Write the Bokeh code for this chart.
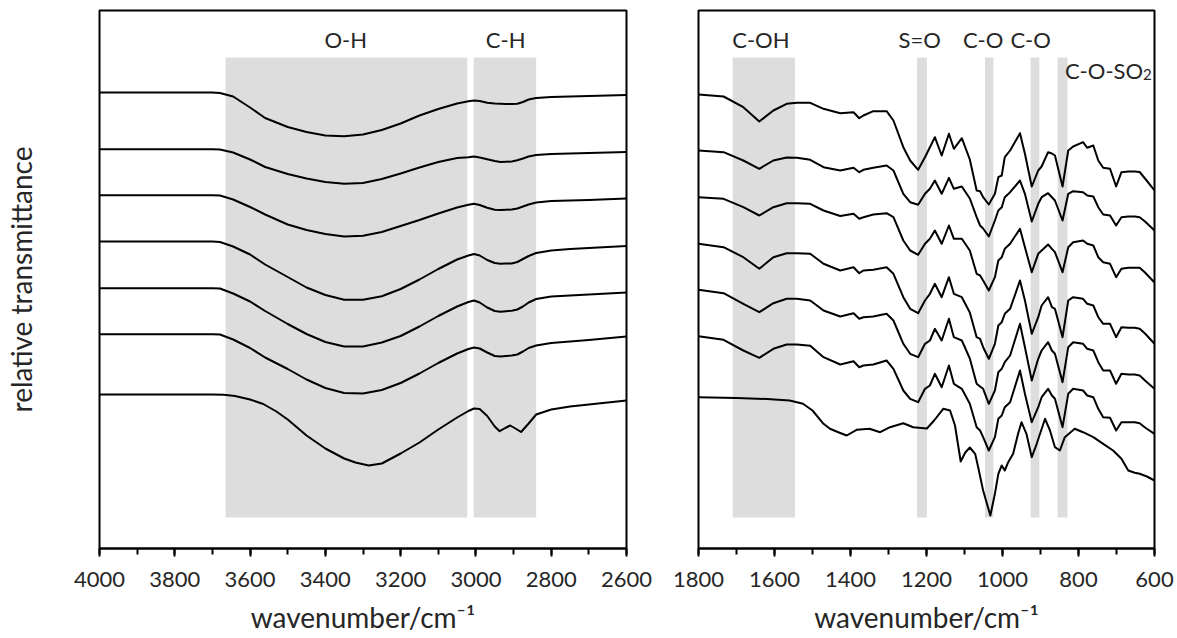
from bokeh.plotting import figure
from bokeh.layouts import row
from bokeh.models import Range1d, SingleIntervalTicker, FixedTicker
from bokeh.core.properties import value
from bokeh.embed import file_html
from bokeh.resources import INLINE

FONT = "Lato"
TXT = "#262626"

# ---------------- left panel (4000-2600 cm-1) ----------------
L_WN = [4000, 3850, 3700, 3680, 3645, 3600, 3560, 3500, 3450, 3400, 3350, 3300, 3250, 3200,
        3150, 3100, 3050, 3020, 3005, 2990, 2970, 2950, 2935, 2920, 2905, 2890, 2875, 2860,
        2840, 2800, 2750, 2700, 2600]
L_S1 = [456, 456, 456, 455.5, 452, 441, 430.5, 421.5, 416.5, 413, 412.3, 414, 418.5, 425,
        433, 439.5, 445, 447.2, 448, 447.5, 445.7, 445, 444.7, 444.5, 444.5, 444.7, 446.5, 449,
        450.5, 451.5, 452, 452.5, 453.5]
L_S2 = [399.3, 399.3, 399.3, 399, 396, 389, 381.5, 374.5, 370, 366.5, 364.7, 365.5, 369.5, 375,
        381, 386.5, 390.5, 391.3, 392, 391, 389.3, 387.5, 386.5, 386.7, 387, 388.2, 390, 392,
        393.5, 394.5, 395, 395.5, 396.5]
L_S3 = [353.3, 353.3, 353.3, 353, 349, 341.5, 334, 324, 318.5, 314.5, 312, 312.7, 316.5, 322.5,
        328.5, 335, 341, 343.8, 344.7, 343.5, 340.7, 338.7, 338.5, 338.7, 339, 340, 342, 344,
        346, 347.5, 348, 348.5, 350]
L_S4 = [307, 307, 307, 306.5, 302, 294, 284, 271.5, 261, 253.5, 248.7, 248.7, 252.3, 259.5,
        269, 279.5, 289, 293, 294.5, 293, 288.5, 285.5, 284.8, 285, 285, 286.5, 289.5, 292.5,
        295.5, 298, 299.5, 300.5, 302.5]
L_S5 = [260.3, 260.3, 260.3, 260, 255, 247, 237.5, 224.5, 214.5, 206.5, 202, 202, 206, 212.5,
        222, 232.5, 242, 246.5, 248, 246, 241, 237.5, 236.8, 237.3, 237.8, 239, 242, 246,
        249.5, 252, 253, 254, 256]
L_S6 = [214.3, 214.3, 214.3, 214, 209, 200.5, 191, 179.5, 169, 160.5, 155.5, 155, 158.5, 165.5,
        175, 185.5, 195, 199.5, 201, 200, 196, 192.5, 192, 192.5, 193, 194, 197, 200.5,
        203, 205.5, 207, 208.5, 212]
L_SPECTRA = [L_S1, L_S2, L_S3, L_S4, L_S5, L_S6]
# bottom (reference) spectrum, read on its own wavenumber points
L7_WN = [4000, 3850, 3700, 3670, 3640, 3600, 3565, 3530, 3500, 3450, 3400, 3350, 3320, 3285,
         3250, 3220, 3200, 3150, 3100, 3050, 3020, 3005, 2990, 2970, 2950, 2937, 2922, 2909,
         2895, 2880, 2860, 2840, 2800, 2750, 2700, 2600]
L_S7 = [154, 154, 154, 153.8, 152.5, 149, 144.5, 137, 129, 113, 100, 90, 86, 83,
        85, 91, 95, 106, 119, 131, 137.5, 140, 139.5, 132.5, 122, 117.3, 120.5, 123,
        120, 116.5, 125, 134, 139, 142, 144, 148]

L_BAND_FROM = [3665, 3006]
L_BAND_TO = [3023, 2840]
L_BAND_NAMES = ["O-H", "C-H"]
L_NAME_WN = [3346, 2921]

# ---------------- right panel (1800-600 cm-1) ----------------
R_WN = [1800, 1734, 1682, 1640, 1603, 1568, 1541, 1506, 1471, 1427,
        1392, 1377, 1366, 1340, 1305, 1287, 1261, 1243, 1222, 1204,
        1191, 1178, 1160, 1141, 1128, 1107, 1086, 1068, 1059, 1051,
        1036, 1020, 1011, 1002, 994, 980, 954, 941, 923, 906,
        897, 880, 870, 862, 842, 827, 814, 788, 777, 761,
        748, 735, 717, 701, 687, 669, 652, 639, 625, 600]
R_S1 = [454, 452, 441.3, 427, 438, 444.7, 445.7, 445.7, 439.7, 435.3,
        436.3, 430.3, 433, 437.3, 437.3, 428, 401.3, 388, 378.7, 391.3,
        401.3, 411.3, 393, 414.7, 399.7, 410.3, 389, 358, 357.3, 351.3,
        344, 354.7, 371.3, 373, 391.3, 398, 415.3, 394.7, 362, 378,
        382, 396.3, 395, 393, 362, 398, 402, 406.3, 400.7, 403,
        388, 380.7, 379.7, 362, 376.3, 377, 377, 376.5, 370, 358]
R_S2 = [398, 396.3, 388, 379.7, 388, 391, 390.7, 388.7, 381.3, 378,
        380.7, 376.3, 378.7, 380.7, 383, 378, 354.7, 346.3, 343.7, 354.7,
        359.7, 368, 354.7, 370.7, 359.7, 362, 350, 331.3, 323, 320,
        312, 328, 338, 341.3, 351.3, 356.3, 368, 354.7, 327, 344.7,
        351.3, 355.3, 351.3, 348, 328, 354.7, 357.3, 356.3, 353, 352,
        341.3, 334, 333, 323, 331.3, 332, 332, 331.3, 327, 318]
R_S3 = [351.3, 349.7, 341.3, 333, 341.3, 345.3, 345.3, 344.7, 338, 332.5,
        334.7, 329.7, 331.3, 334, 335.3, 331.3, 308, 298, 293.7, 304.7,
        309.7, 318, 304.7, 323, 309.7, 309.7, 298, 274.7, 273, 268,
        258, 271.3, 288, 291.3, 299.7, 304.7, 319.7, 301.3, 276.3, 294.7,
        298, 304, 299.7, 296.3, 276.3, 301.3, 306.3, 308, 304.7, 303,
        291.3, 286.3, 284.7, 271.3, 279.7, 280.7, 280.7, 280.7, 276, 266]
R_S4 = [304.7, 301.3, 291.3, 279.7, 291.3, 295.3, 295.3, 294.7, 284.7, 278,
        281.3, 275.3, 278, 278.7, 281.3, 274.7, 251.3, 239.7, 235.3, 248,
        254.7, 264.7, 251.3, 271.3, 254.7, 251.3, 236, 211.3, 209.7, 201.3,
        189.7, 204.7, 223, 226.3, 234.7, 239.7, 268, 248, 214.7, 231.3,
        243, 251.3, 241.3, 239.7, 211.3, 248, 251.3, 249.7, 244.7, 243,
        231.3, 224.7, 224.7, 211.3, 221.3, 220.7, 220.7, 219.7, 215, 204.7]
R_S5 = [258.7, 255.3, 244.7, 236.3, 245.3, 249.7, 249.7, 248, 238, 232,
        235.3, 229.7, 231.3, 232, 234.7, 228, 204.7, 194.7, 191.3, 204.7,
        208, 219.7, 208, 229.7, 211.3, 208, 190, 164.7, 162, 159.7,
        144.7, 158, 176.3, 179.7, 186.3, 193, 224.7, 201.3, 168, 189.7,
        198, 206.3, 198, 194.7, 166.3, 201.3, 206.3, 204.7, 199.7, 198,
        186.3, 178, 178, 164.7, 174.7, 174, 174, 173, 168, 159.7]
R_S6 = [212.3, 208.7, 198, 190.7, 199.7, 204, 204, 202.7, 191.3, 184,
        187.3, 181.3, 183, 184, 188, 179.7, 158, 149.7, 146.3, 159.7,
        163, 174.7, 161.3, 183, 164.7, 159.7, 144.7, 121.3, 118, 111.3,
        98, 111.3, 129.7, 133, 141.3, 146.3, 178, 154.7, 126.3, 141.3,
        151.3, 159.7, 153, 149.7, 121.3, 154.7, 159.7, 158, 153, 151.3,
        139.7, 131.3, 130.7, 118, 126.3, 126.3, 126.3, 125.3, 121, 114.7]
R7_WN = [1800, 1700, 1620, 1560, 1525, 1500, 1471, 1454, 1432, 1410,
         1384, 1350, 1322, 1296, 1261, 1235, 1199, 1180, 1156, 1138,
         1125, 1110, 1098, 1086, 1072, 1064, 1051, 1032, 1020, 1011,
         1002, 994, 985, 972, 959, 950, 937, 923, 910, 888,
         875, 862, 849, 836, 810, 788, 761, 735, 709, 687,
         669, 652, 639, 620, 600]
R_S7 = [151.3, 150.5, 149.5, 148, 144.7, 138, 124.7, 119.7, 116.3, 113,
        118.7, 119.7, 116.3, 121.3, 125.3, 121.3, 120, 128, 139.7, 138,
        123, 87, 96, 101, 94.7, 81.3, 58, 33, 54.7, 74.7,
        83, 78, 86.3, 94.7, 114.7, 126.3, 114.7, 91.3, 104.7, 129.7,
        118, 101.3, 98, 111.3, 119.7, 116.3, 111.3, 104.7, 98, 89.7,
        78, 75.7, 74.7, 72, 68]
R_SPECTRA = [R_S1, R_S2, R_S3, R_S4, R_S5, R_S6]

R_BAND_FROM = [1710, 1225, 1046, 926, 855]
R_BAND_TO = [1546, 1199, 1024, 903, 829]
R_BAND_NAMES = ["C-OH", "S=O", "C-O", "C-O"]
R_NAME_WN = [1636, 1218, 1051, 926]
SO2_NAME = "C-O-SO"
SO2_SUB = "2"
SO2_WN = 630

BAND_LOW, BAND_HIGH = 31, 491
NAME_Y = 509.5
SO2_Y = 478.5
SUB_Y = 474
BAND_COLOR = "#dddddd"


def panel(xr, width, mbl, mbr, ylabel):
    p = figure(width=width, height=638, x_range=Range1d(*xr), y_range=Range1d(0, 538),
               y_axis_location="left" if ylabel else None,
               toolbar_location=None, output_backend="svg",
               min_border_left=mbl, min_border_right=mbr,
               min_border_top=10, min_border_bottom=90)
    p.grid.visible = False
    p.outline_line_color = "black"
    p.outline_line_width = 2
    p.outline_line_alpha = 1
    ax = p.xaxis[0]
    ax.ticker = SingleIntervalTicker(interval=200, num_minor_ticks=2)
    ax.axis_line_width = 2
    ax.axis_line_color = "black"
    ax.major_tick_line_width = 2
    ax.major_tick_out = 8
    ax.major_tick_in = 0
    ax.minor_tick_line_width = 2
    ax.minor_tick_out = 6
    ax.minor_tick_in = 0
    ax.major_label_text_font = FONT
    ax.major_label_text_font_size = "22px"
    ax.major_label_text_color = TXT
    ax.major_label_standoff = 15
    ax.axis_label = "wavenumber/cm\u207b\u00b9"
    ax.axis_label_text_font = FONT
    ax.axis_label_text_font_size = "28px"
    ax.axis_label_text_font_style = "normal"
    ax.axis_label_text_color = TXT
    ax.axis_label_standoff = 10
    if ylabel:
        ay = p.yaxis[0]
        ay.ticker = FixedTicker(ticks=[])
        ay.axis_line_color = None
        ay.major_tick_out = 0
        ay.major_tick_in = 0
        ay.minor_tick_out = 0
        ay.minor_tick_in = 0
        ay.major_label_standoff = 0
        ay.major_label_text_font_size = "0px"
        ay.axis_label = ylabel
        ay.axis_label_text_font = FONT
        ay.axis_label_text_font_size = "28px"
        ay.axis_label_text_font_style = "normal"
        ay.axis_label_text_color = TXT
        ay.axis_label_standoff = 62
    return p


p1 = panel((4000, 2600), 660, 98, 34, "relative transmittance")
p1.quad(left=L_BAND_FROM, right=L_BAND_TO, bottom=BAND_LOW, top=BAND_HIGH,
        fill_color=BAND_COLOR, line_color=None)
for s in L_SPECTRA:
    p1.line(L_WN, s, line_color="black", line_width=2, line_join="round")
p1.line(L7_WN, L_S7, line_color="black", line_width=2, line_join="round")
p1.text(x=L_NAME_WN, y=[NAME_Y] * len(L_NAME_WN), text=L_BAND_NAMES,
        text_font=value(FONT), text_font_size="22px", text_color=TXT,
        text_align="center", text_baseline="alphabetic")

p2 = panel((1800, 600), 517, 38, 23, None)
p2.quad(left=R_BAND_FROM, right=R_BAND_TO, bottom=BAND_LOW, top=BAND_HIGH,
        fill_color=BAND_COLOR, line_color=None)
for s in R_SPECTRA:
    p2.line(R_WN, s, line_color="black", line_width=2, line_join="round")
p2.line(R7_WN, R_S7, line_color="black", line_width=2, line_join="round")
p2.text(x=R_NAME_WN, y=[NAME_Y] * len(R_NAME_WN), text=R_BAND_NAMES,
        text_font=value(FONT), text_font_size="22px", text_color=TXT,
        text_align="center", text_baseline="alphabetic")
p2.text(x=[SO2_WN], y=[SO2_Y], text=[SO2_NAME],
        text_font=value(FONT), text_font_size="22px", text_color=TXT,
        text_align="right", text_baseline="alphabetic")
p2.text(x=[SO2_WN], y=[SUB_Y], text=[SO2_SUB],
        text_font=value(FONT), text_font_size="15px", text_color=TXT,
        text_align="left", text_baseline="alphabetic")

layout = row(p1, p2)
open("out.html", "w").write(file_html(layout, INLINE))
